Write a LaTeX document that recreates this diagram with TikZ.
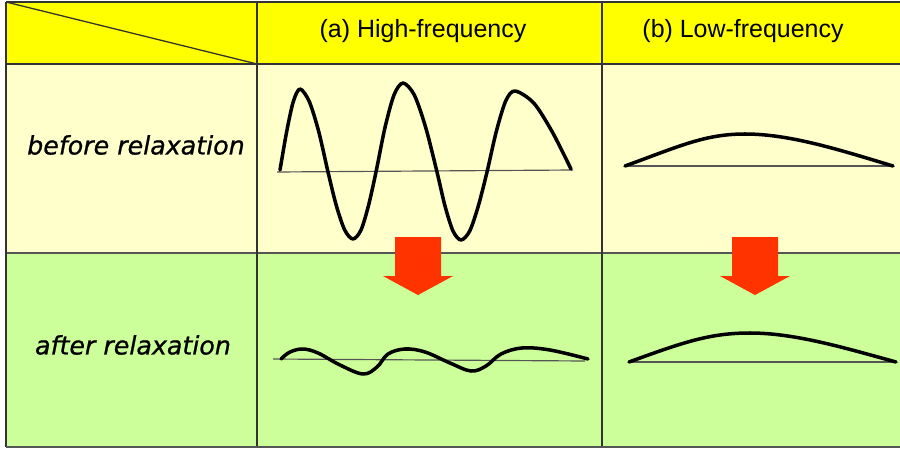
\documentclass[tikz,border=0pt]{standalone}
\usepackage{fontspec}
\setmainfont{Liberation Sans}
\newfontfamily\rowfont[FakeBold=0.9]{DejaVu Sans Oblique}
\usetikzlibrary{calc}
\definecolor{headY}{HTML}{FFFF00}
\definecolor{rowA}{HTML}{FFFFCC}
\definecolor{rowB}{HTML}{CCFF99}
\definecolor{arrowR}{HTML}{FF3300}
\definecolor{ruleC}{HTML}{333333}
\definecolor{baseC}{HTML}{555555}
\newcommand{\lblHigh}{(a) High-frequency}
\newcommand{\lblLow}{(b) Low-frequency}
\newcommand{\lblBefore}{before relaxation}
\newcommand{\lblAfter}{after relaxation}

\begin{document}
\begin{tikzpicture}[
  x=0.03cm, y=-0.03cm,
  grid/.style   ={draw=ruleC, line width=1.1pt},
  baseln/.style ={draw=baseC, line width=1pt},
  wave/.style   ={draw=black, line width=3pt, line join=round, line cap=round},
  bigarrow/.style={fill=arrowR, draw=none},
  head/.style   ={font=\fontsize{21.3}{25}\selectfont, inner sep=0pt},
  side/.style   ={font=\rowfont\fontsize{21.6}{25}\selectfont, inner sep=0pt},
]
\useasboundingbox (0,0) rectangle (900,449);

% ---- geometry --------------------------------------------------------------
\def\xL{6}    \def\xA{257}  \def\xB{602}  \def\xR{900}
\def\yT{2}    \def\yH{64}   \def\yM{253}  \def\yB{447}

% ---- cells -----------------------------------------------------------------
\fill[headY] (\xL,\yT) rectangle (\xR,\yH);
\fill[rowA]  (\xL,\yH) rectangle (\xR,\yM);
\fill[rowB]  (\xL,\yM) rectangle (\xR,\yB);

\draw[grid] (\xL,\yT) -- (\xR,\yT);
\draw[grid] (\xL,\yH) -- (\xR,\yH);
\draw[grid, draw=baseC] (\xL,\yM) -- (\xR,\yM);
\draw[grid] (\xL,\yT) -- (\xL,\yB);
\draw[grid] (\xA,\yT) -- (\xA,\yB);
\draw[grid] (\xB,\yT) -- (\xB,\yB);
\draw[draw=baseC, line width=2pt] (\xL,\yB) -- (\xR,\yB);
\draw[grid] (\xL,\yT) -- (\xA,\yH);   % corner diagonal

% ---- labels ----------------------------------------------------------------
\node[head] (hHigh)   at (423,31)  {\lblHigh};
\node[head] (hLow)    at (743,31)  {\lblLow};
\node[side] (sBefore) at (136,145) {\lblBefore};
\node[side] (sAfter)  at (133,345) {\lblAfter};

% ---- high frequency --------------------------------------------------------
\draw[baseln] (277,172) -- (573,170);
\draw[wave] plot[smooth, tension=0.5] coordinates {
  (280,170) (286.7,131.5) (293.3,101.6) (300,89) (309.3,101.6) (318.7,131.5)
  (328,172) (336.3,205.5) (344.7,230) (353,239) (361,230) (368.5,205.5)
  (376,172) (385,127.5) (394,95) (403,83) (414.3,95) (425.7,127.5)
  (437,172) (445,206) (453,231) (461,240) (469.7,231) (478.3,206)
  (487,172) (496.3,131.5) (505.7,101) (515,91) (533.7,103) (552.3,132)
  (571,169)};

\draw[baseln] (273,359) -- (585,361);
\draw[wave] plot[smooth, tension=0.6] coordinates {
  (281,359) (290,352) (303,349) (318,353) (340,365) (363,374) (377,367)
  (388,354) (405,349) (425,352) (450,363) (471,371) (486,366) (501,354)
  (522,348) (550,350) (588,359)};

% ---- low frequency ---------------------------------------------------------
\draw[baseln] (625,166) -- (892,166);
\draw[wave] (625,166) .. controls (680,146) and (705,134) .. (745,134)
                      .. controls (790,134) and (840,150) .. (893,166);

\draw[baseln] (629,362) -- (893,362);
\draw[wave] (629,362) .. controls (684,342) and (710,333) .. (750,333)
                      .. controls (795,333) and (845,348) .. (896,362);

% ---- relaxation arrows -----------------------------------------------------
\fill[bigarrow, shift={(418,237)}] (-23,0) -- (23,0) -- (23,39) -- (35,39)
  -- (0,58) -- (-35,39) -- (-23,39) -- cycle;
\fill[bigarrow, shift={(755,237)}] (-23,0) -- (23,0) -- (23,39) -- (35,39)
  -- (0,58) -- (-35,39) -- (-23,39) -- cycle;

\end{tikzpicture}
\end{document}
